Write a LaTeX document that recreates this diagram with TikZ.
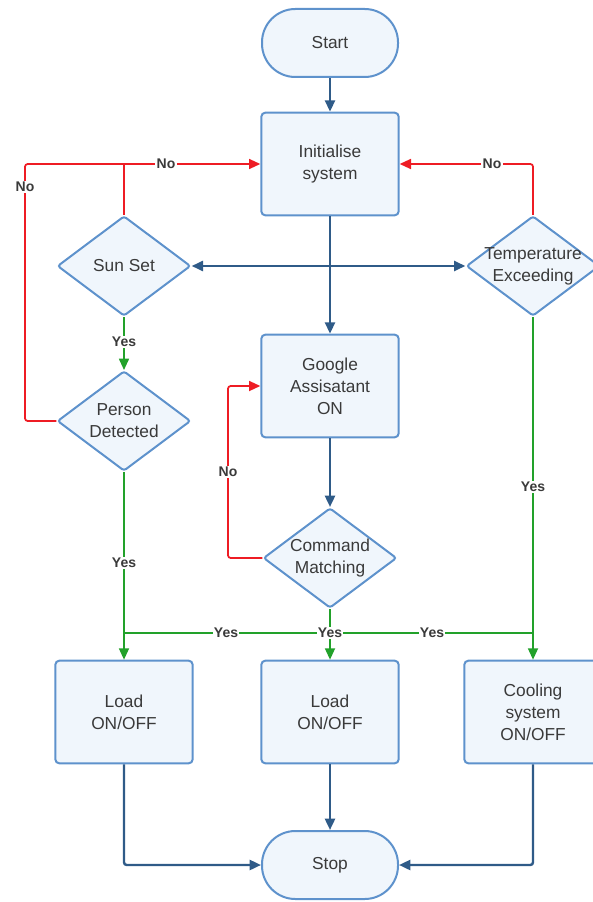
\documentclass[tikz,border=0pt]{standalone}
\usepackage{fontspec}
\setmainfont{Liberation Sans}
\usetikzlibrary{shapes.geometric}
\usetikzlibrary{arrows.meta}

\definecolor{boxfill}{HTML}{F0F6FC}
\definecolor{boxline}{HTML}{5E92CC}
\definecolor{flowblue}{HTML}{2F5B88}
\definecolor{flowred}{HTML}{EE1C24}
\definecolor{flowgreen}{HTML}{22A12A}
\definecolor{txtgray}{HTML}{3A3A3A}

\tikzset{
  boxtext/.style={text=txtgray, align=center, font=\fontsize{13}{16.5}\selectfont},
  terminal/.style={boxtext, rectangle, draw=boxline, fill=boxfill, line width=1.5pt, rounded corners=25pt, minimum width=102pt, minimum height=51pt},
  process/.style={boxtext, rectangle, draw=boxline, fill=boxfill, line width=1.5pt, rounded corners=3pt, minimum width=103pt, minimum height=77pt},
  decision/.style={diamond, draw=boxline, fill=boxfill, line width=1.5pt, rounded corners=2pt, minimum width=100pt, minimum height=75pt, inner sep=0pt},
  flow/.style={flowblue, line width=1.8pt, rounded corners=2pt, -{Triangle[length=8.5pt,width=7.5pt]}},
  nopath/.style={flowred, line width=1.3pt, rounded corners=2pt, -{Triangle[length=8.5pt,width=7.5pt]}},
  yespath/.style={flowgreen, line width=1.3pt, rounded corners=2pt, -{Triangle[length=8.5pt,width=7.5pt]}},
  tag/.style={fill=white, inner sep=1pt, text=txtgray, font=\fontsize{10.5}{12}\selectfont\bfseries}
}

\begin{document}
\begin{tikzpicture}[x=0.75pt,y=-0.75pt]

\useasboundingbox (0,0) rectangle (592,902);

\node[terminal] (start) at (330,43) {Start};
\node[process] (init) at (330,164) {Initialise\\system};
\node[decision, label={[boxtext]center:Sun Set}] (sun) at (124,266) {};
\node[decision, label={[boxtext]center:Temperature\\Exceeding}] (temp) at (533,266) {};
\node[process] (google) at (330,386) {Google\\Assisatant\\ON};
\node[decision, label={[boxtext]center:Person\\Detected}] (person) at (124,421) {};
\node[decision, label={[boxtext]center:Command\\Matching}] (cmd) at (330,558) {};
\node[process] (load1) at (124,712) {Load\\ON/OFF};
\node[process] (load2) at (330,712) {Load\\ON/OFF};
\node[process] (cool) at (533,712) {Cooling\\system\\ON/OFF};
\node[terminal] (stop) at (330,865) {Stop};

\coordinate (hub) at (330,266);
\coordinate (noleft) at (25,164);
\coordinate (noloop) at (228,558);
\coordinate (yesbar) at (330,633);

\draw[flow] (start) -- (init);
\draw[flow] (init) -- (google);
\draw[flow] (hub) -- (sun.east);
\draw[flow] (hub) -- (temp.west);
\draw[flow] (google) -- (cmd);

\draw[nopath] (person.west) -| (noleft) -- (init.west);
\draw[nopath,-] (sun.north) -- (sun.north |- init.west);
\draw[nopath] (temp.north) |- (init.east);
\draw[nopath] (cmd.west) -- (noloop) |- (google.west);
\node[tag] (no1) at (166,164) {No};
\node[tag] (no2) at (25,187) {No};
\node[tag] (no3) at (492,164) {No};
\node[tag] (no4) at (228,472) {No};

\draw[yespath] (sun.south) -- (person.north);
\draw[yespath] (person.south) -- (load1.north);
\draw[yespath] (temp.south) -- (cool.north);
\draw[yespath] (cmd.south) -- (load2.north);
\draw[yespath,-] (load1.north |- yesbar) -- (cool.north |- yesbar);
\node[tag] (yes1) at (124,342) {Yes};
\node[tag] (yes2) at (124,563) {Yes};
\node[tag] (yes3) at (533,487) {Yes};
\node[tag] (yes4) at (226,633) {Yes};
\node[tag] (yes5) at (330,633) {Yes};
\node[tag] (yes6) at (432,633) {Yes};

\draw[flow] (load1.south) |- (stop.west);
\draw[flow] (load2) -- (stop);
\draw[flow] (cool.south) |- (stop.east);

\end{tikzpicture}
\end{document}
